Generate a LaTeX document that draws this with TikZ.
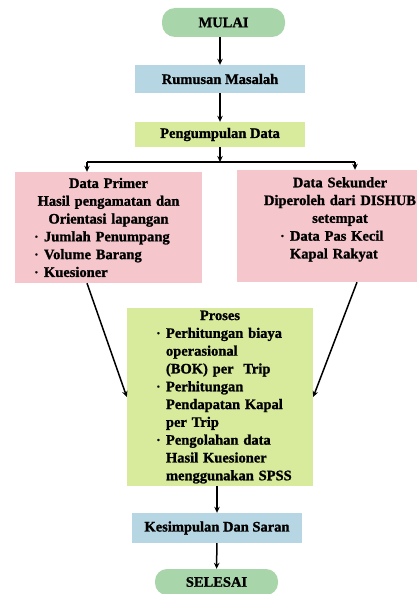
\documentclass[tikz,border=0pt]{standalone}
\usepackage{fontspec}
\setmainfont{Liberation Serif}[BoldFeatures={FakeBold=1.2}]
\usetikzlibrary{arrows.meta}

\definecolor{hijau}{HTML}{A9D5AB}
\definecolor{biru}{HTML}{B5D6E2}
\definecolor{kuning}{HTML}{D8EB9C}
\definecolor{merah}{HTML}{F5C7CC}

% baris berbutir dan baris lanjutan: {lebar}{indentasi}{teks}
\newcommand{\butir}[3]{\makebox[#1][l]{\hspace*{#2}\makebox[9pt][l]{\raisebox{0.3ex}{\scalebox{0.55}{\textbullet}}}#3}}
\newcommand{\lanjut}[3]{\makebox[#1][l]{\hspace*{#2}\hspace*{9pt}#3}}

\begin{document}
\begin{tikzpicture}[x=1pt, y=-1pt,
    kotak/.style={inner sep=0pt, align=center, font=\fontsize{14.5}{17.8}\selectfont\bfseries},
    panah/.style={-{Stealth[length=6pt,width=5.5pt]}, line width=1.5pt}]

\useasboundingbox (0,0) rectangle (417,594);

% Mulai
\node[kotak, fill=hijau, rounded corners=13pt, minimum width=123pt, minimum height=29pt] (mulai) at (223.5,22.5) {MULAI};

% Rumusan masalah
\node[kotak, fill=biru, minimum width=170pt, minimum height=28pt] (rumusan) at (220,79) {Rumusan Masalah};

% Pengumpulan data
\node[kotak, fill=kuning, minimum width=170pt, minimum height=25pt] (kumpul) at (220,134.5) {Pengumpulan Data};

% Data primer
\node[kotak, fill=merah, minimum width=187pt, minimum height=111pt, text width=187pt] (primer) at (108.5,227.5) {Data Primer\\
  Hasil pengamatan dan\\
  Orientasi lapangan\\
  \butir{187pt}{20pt}{Jumlah Penumpang}\\
  \butir{187pt}{20pt}{Volume Barang}\\
  \butir{187pt}{20pt}{Kuesioner}};

% Data sekunder
\node[kotak, fill=merah, minimum width=180pt, minimum height=112pt] (sekunder) at (327,226) {};
\node[kotak, text width=180pt, anchor=north] (sekunderisi) at (340,177) {Data Sekunder\\
  Diperoleh dari DISHUB\\
  setempat\\
  \butir{180pt}{31pt}{Data Pas Kecil}\\
  \lanjut{180pt}{31pt}{Kapal Rakyat}};

% Proses
\node[kotak, fill=kuning, minimum width=186pt, minimum height=178pt, text width=186pt] (proses) at (220,397) {Proses\\
  \butir{186pt}{30pt}{Perhitungan biaya}\\
  \lanjut{186pt}{30pt}{operasional}\\
  \lanjut{186pt}{30pt}{(BOK) per\ \ Trip}\\
  \butir{186pt}{30pt}{Perhitungan}\\
  \lanjut{186pt}{30pt}{Pendapatan Kapal}\\
  \lanjut{186pt}{30pt}{per Trip}\\
  \butir{186pt}{30pt}{Pengolahan data}\\
  \lanjut{186pt}{30pt}{Hasil Kuesioner}\\
  \lanjut{186pt}{30pt}{menggunakan SPSS}};

% Kesimpulan dan selesai
\node[kotak, fill=biru, minimum width=170pt, minimum height=30pt] (simpul) at (217,528) {Kesimpulan Dan Saran};
\node[kotak, fill=hijau, rounded corners=12pt, minimum width=123pt, minimum height=26pt] (selesai) at (216.5,582) {SELESAI};

% Percabangan
\coordinate (cabang) at (220,162);
\coordinate (kiri) at (87,162);
\coordinate (kanan) at (355,162);

% Panah
\draw[panah] (mulai.south -| rumusan) -- (rumusan);
\draw[panah] (rumusan) -- (kumpul);
\draw[panah] (kumpul) -- (cabang);
\draw[line width=1.5pt] (kiri) -- (kanan);
\draw[panah] (kiri) -- (kiri |- primer.north);
\draw[panah] (kanan) -- (kanan |- sekunder.north);
\draw[panah] (primer.south -| kiri) -- (proses.west);
\draw[panah] ([xshift=2pt]sekunder.south -| kanan) -- (proses.east);
\draw[panah] (proses.south -| simpul) -- (simpul);
\draw[panah] (simpul) -- (selesai);

\end{tikzpicture}
\end{document}
